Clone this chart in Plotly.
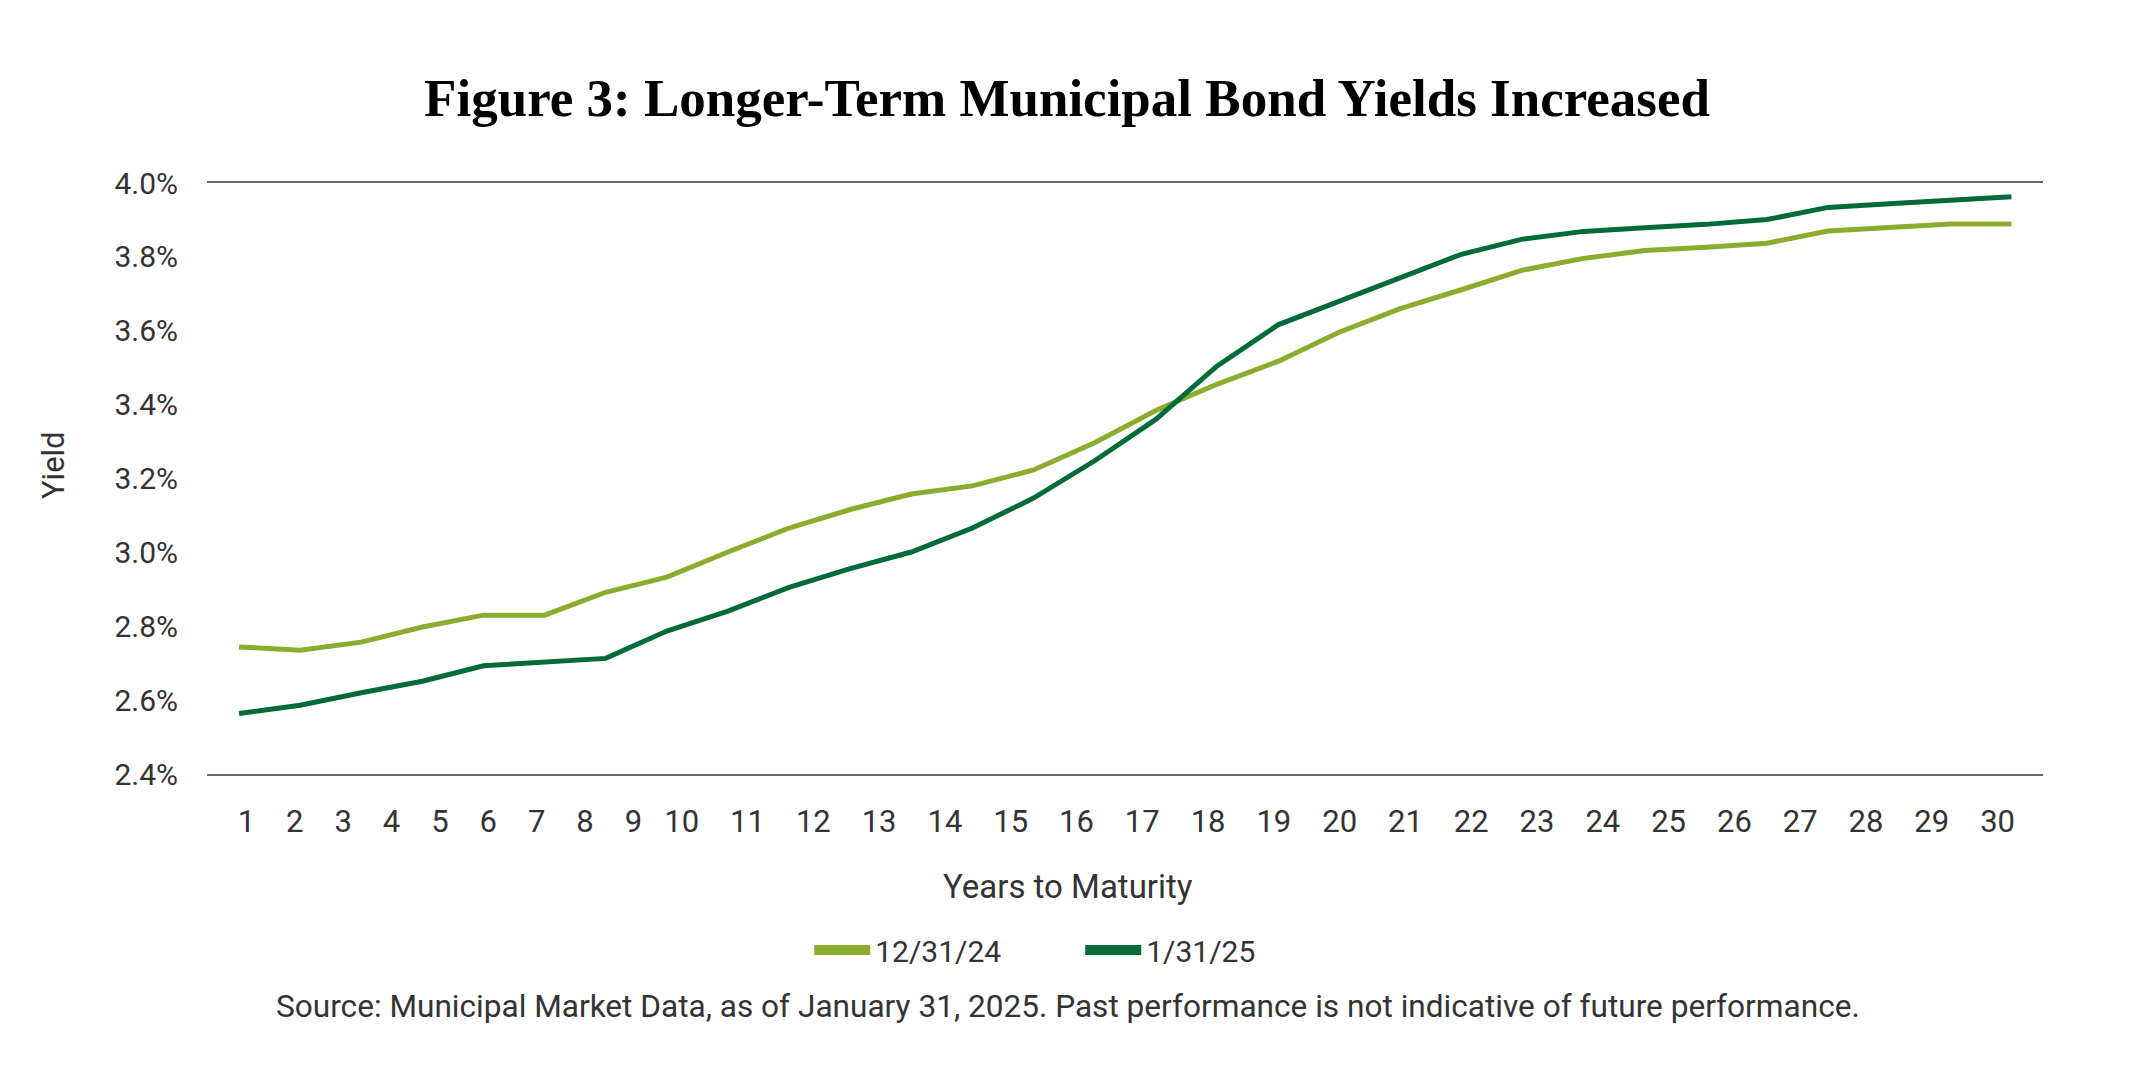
import plotly.graph_objects as go

years = list(range(1, 31))
tick_labels = [str(y) for y in years]
yield_dec24 = [2.744, 2.735, 2.757, 2.798, 2.830, 2.830, 2.892, 2.933, 3.001, 3.066,
               3.116, 3.158, 3.180, 3.223, 3.297, 3.384, 3.455, 3.517, 3.596, 3.660,
               3.711, 3.764, 3.796, 3.817, 3.826, 3.837, 3.870, 3.880, 3.889, 3.889]
yield_jan25 = [2.564, 2.586, 2.620, 2.651, 2.693, 2.704, 2.713, 2.787, 2.841, 2.905,
               2.956, 3.001, 3.066, 3.147, 3.248, 3.360, 3.504, 3.616, 3.680, 3.744,
               3.807, 3.848, 3.869, 3.879, 3.888, 3.901, 3.934, 3.944, 3.954, 3.963]
series_names = ["12/31/24", "1/31/25"]
y_ticks = [2.4, 2.6, 2.8, 3.0, 3.2, 3.4, 3.6, 3.8, 4.0]

LIGHT = "#8aad2e"
DARK = "#006b38"
TEXT = "#333333"
FONT = "Roboto"

# The reference's year labels are laid out on their own grid
# (narrower steps for years 1-10, wider for 11-30), not under each data vertex.
first_lab, step_a, step_b = 1.121, 0.7914, 1.0765
tick_pos = []
for n in years:
    if n <= 10:
        tick_pos.append(first_lab + (n - 1) * step_a)
    else:
        tick_pos.append(first_lab + 9 * step_a + (n - 10) * step_b)

fig = go.Figure()
for name, vals, col in [(series_names[0], yield_dec24, LIGHT), (series_names[1], yield_jan25, DARK)]:
    fig.add_trace(go.Scatter(x=years, y=vals, mode="lines", name=name,
                             line=dict(color=col, width=5), showlegend=False,
                             hoverinfo="x+y"))
for name, col in [(series_names[0], LIGHT), (series_names[1], DARK)]:
    fig.add_trace(go.Scatter(x=[None], y=[None], mode="lines", name=name,
                             line=dict(color=col, width=10), showlegend=True))

fig.update_layout(
    width=2134, height=1067,
    margin=dict(l=199, r=99, t=175, b=301, autoexpand=False),
    paper_bgcolor="white", plot_bgcolor="white",
    title=dict(text="Figure 3: Longer-Term Municipal Bond Yields Increased",
               x=(1067 - 8) / 2134, xanchor="center", xref="container",
               y=1 - 89 / 1067, yanchor="middle", yref="container",
               font=dict(family="Liberation Serif", size=53, color="black", weight=700)),
    xaxis=dict(range=[0.476, 30.517], tickmode="array", tickvals=tick_pos, ticktext=tick_labels,
               showgrid=False, zeroline=False, showline=True, mirror=True,
               linecolor="#666666", linewidth=2, ticks="",
               ticklabelstandoff=19,
               tickfont=dict(family=FONT, size=31, color=TEXT)),
    yaxis=dict(range=[2.4, 4.0], tickmode="array", tickvals=y_ticks,
               ticktext=[f"{v:.1f}%" for v in y_ticks],
               showgrid=False, zeroline=False, showline=False, ticks="",
               ticklabelstandoff=28,
               tickfont=dict(family=FONT, size=30, color=TEXT)),
    legend=dict(orientation="h", x=0.328, xanchor="left", y=-0.298, yanchor="middle",
                font=dict(family=FONT, size=30, color=TEXT),
                itemwidth=56, entrywidth=200, entrywidthmode="pixels",
                bgcolor="rgba(0,0,0,0)"),
    annotations=[
        dict(text="Years to Maturity", xref="paper", yref="paper", x=(1067 - 207) / 1834,
             y=-0.1896, xanchor="center", yanchor="middle", showarrow=False,
             font=dict(family=FONT, size=33, color=TEXT)),
        dict(text="Yield", xref="paper", yref="paper", x=-0.0836, y=0.522,
             xanchor="center", yanchor="middle", textangle=-90, showarrow=False,
             font=dict(family=FONT, size=31, color=TEXT)),
        dict(text="Source: Municipal Market Data, as of January 31, 2025. Past performance is not indicative of future performance.",
             xref="paper", yref="paper", x=(1067 - 207) / 1834, y=-0.3927,
             xanchor="center", yanchor="middle", showarrow=False,
             font=dict(family=FONT, size=31.6, color=TEXT)),
    ],
)

fig.write_html("out.html")
